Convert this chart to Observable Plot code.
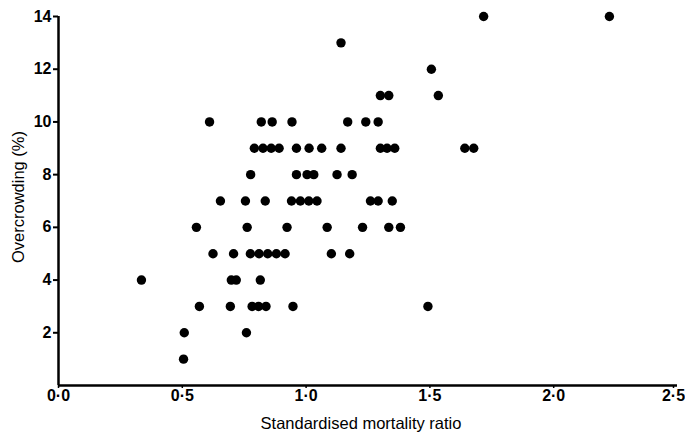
<!DOCTYPE html>
<html>
<head>
<meta charset="utf-8">
<script src="https://cdn.jsdelivr.net/npm/d3@7"></script>
<script src="https://cdn.jsdelivr.net/npm/@observablehq/plot@0.6"></script>
<style>
  body { margin: 0; background: white; }
</style>
</head>
<body>
<div id="chart"></div>
<script>
// Standardised mortality ratio (x) and overcrowding % (y), one pair per area
const smr = [
  0.505,
  0.508, 0.759,
  0.569, 0.694, 0.782, 0.808, 0.838, 0.947, 1.492,
  0.335, 0.698, 0.718, 0.815,
  0.624, 0.707, 0.775, 0.810, 0.845, 0.880, 0.915, 1.102, 1.176,
  0.557, 0.762, 0.923, 1.085, 1.228, 1.334, 1.381,
  0.654, 0.755, 0.835, 0.941, 0.977, 1.011, 1.044, 1.260, 1.291, 1.348,
  0.776, 0.961, 1.004, 1.031, 1.125, 1.186,
  0.791, 0.826, 0.859, 0.891, 0.961, 1.012, 1.063, 1.141, 1.300, 1.327, 1.358, 1.641, 1.677,
  0.610, 0.819, 0.863, 0.943, 1.168, 1.241, 1.291,
  1.300, 1.334, 1.534,
  1.506,
  1.141,
  1.717, 2.225
];
const overcrowding = [
  1,
  2, 2,
  3, 3, 3, 3, 3, 3, 3,
  4, 4, 4, 4,
  5, 5, 5, 5, 5, 5, 5, 5, 5,
  6, 6, 6, 6, 6, 6, 6,
  7, 7, 7, 7, 7, 7, 7, 7, 7, 7,
  8, 8, 8, 8, 8, 8,
  9, 9, 9, 9, 9, 9, 9, 9, 9, 9, 9, 9, 9,
  10, 10, 10, 10, 10, 10, 10,
  11, 11, 11,
  12,
  13,
  14, 14
];
const xTicks = [0, 0.5, 1.0, 1.5, 2.0];
const xLastTick = [2.5];
const yTicks = [2, 4, 6, 8, 10, 12, 14];
const xTitle = "Standardised mortality ratio";
const yTitle = "Overcrowding (%)";

const data = smr.map((x, i) => ({x, y: overcrowding[i]}));
const font = "'Liberation Sans', Arial, sans-serif";
const fmt = d => d.toFixed(1).replace(".", "\u00B7");

const chart = Plot.plot({
  width: 685,
  height: 434,
  marginLeft: 58,
  marginRight: 8,
  marginTop: 16,
  marginBottom: 49,
  style: {background: "white", fontFamily: font, color: "black"},
  x: {domain: [0, 2.5]},
  y: {domain: [0, 14]},
  marks: [
    Plot.axisX({
      ticks: xTicks, tickFormat: fmt, tickSize: 3, tickPadding: 1,
      fontSize: 16, fontWeight: "bold", label: null, strokeWidth: 1.5
    }),
    Plot.axisX({
      ticks: xLastTick, tickFormat: fmt, tickSize: 3, tickPadding: 1,
      fontSize: 16, fontWeight: "bold", label: null, strokeWidth: 1.5, dx: -4
    }),
    Plot.axisY({
      ticks: yTicks, tickFormat: d => String(d), tickSize: 5, tickPadding: 2,
      fontSize: 16, fontWeight: "bold", label: null, strokeWidth: 2
    }),
    Plot.ruleY([0], {x1: 0, x2: 2.5, strokeWidth: 2.5, stroke: "black"}),
    Plot.ruleX([0], {y1: 0, y2: 14, strokeWidth: 2.5, stroke: "black"}),
    Plot.dot(data, {x: "x", y: "y", r: 4.7, fill: "black", stroke: "none"}),
    Plot.text([xTitle], {
      text: d => d, frameAnchor: "bottom", textAnchor: "middle", dy: 43, dx: -7,
      fontSize: 16.5, fontFamily: font
    }),
    Plot.text([yTitle], {
      text: d => d, frameAnchor: "left", textAnchor: "middle", dx: -40, dy: -4, rotate: -90,
      fontSize: 16.5, fontFamily: font
    })
  ]
});
document.getElementById("chart").appendChild(chart);
</script>
</body>
</html>
